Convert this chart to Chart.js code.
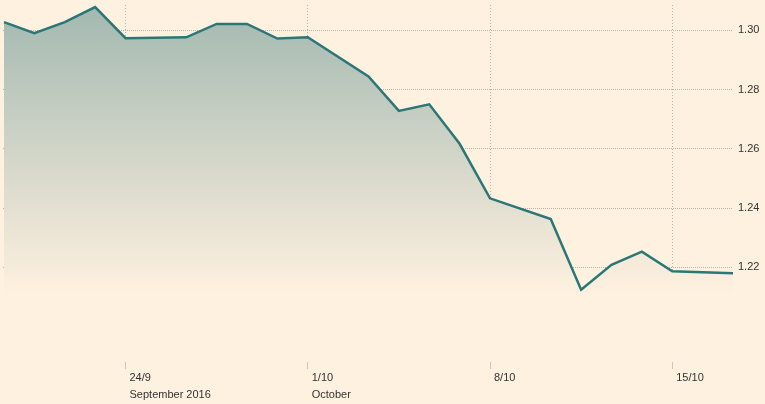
<!DOCTYPE html>
<html>
<head>
<meta charset="utf-8">
<script src="https://cdn.jsdelivr.net/npm/chart.js@4"></script>
<style>
  html, body { margin: 0; padding: 0; background: #fff1e0; }
  #wrap { width: 765px; height: 404px; position: relative; }
</style>
</head>
<body>
<div id="wrap"><canvas id="fxChart"></canvas></div>
<script>
// slot index of each trading point (gaps = no quote that slot)
const slots = [0, 1, 2, 3, 4, 6, 7, 8, 9, 10, 12, 13, 14, 15, 16, 18, 19, 20, 21, 22, 24];
const rates = [1.3027, 1.2990, 1.3027, 1.3078, 1.2973, 1.2976, 1.3021, 1.3021, 1.2972, 1.2976,
               1.2844, 1.2728, 1.2750, 1.2617, 1.2433, 1.2363, 1.2125, 1.2209, 1.2253, 1.2187, 1.2180];

const tickSlots = [4, 10, 16, 22];
const tickLabels = [['24/9', 'September 2016'], ['1/10', 'October'], ['8/10', ''], ['15/10', '']];
const yTicks = [1.22, 1.24, 1.26, 1.28, 1.30];

const points = slots.map((s, i) => ({ x: s, y: rates[i] }));

const gridColor = '#bdb4a8';
const textColor = '#333333';

(function () {
    new Chart(document.getElementById('fxChart'), {
        type: 'line',
        data: {
            datasets: [{
                data: points,
                borderColor: '#2a7776',
                borderWidth: 2.5,
                pointRadius: 0,
                tension: 0,
                fill: 'start',
                backgroundColor: (ctx) => {
                    const g = ctx.chart.ctx.createLinearGradient(0, 5, 0, 295);
                    g.addColorStop(0, '#a2b8b0');
                    g.addColorStop(1, '#fff1e0');
                    return g;
                }
            }]
        },
        options: {
            animation: false,
            responsive: true,
            maintainAspectRatio: false,
            layout: { padding: { left: 3, top: 5, right: 0, bottom: 0 } },
            plugins: {
                legend: { display: false },
                tooltip: { enabled: false }
            },
            scales: {
                x: {
                    type: 'linear',
                    min: -0.033,
                    max: 24,
                    afterBuildTicks: (axis) => { axis.ticks = tickSlots.map(v => ({ value: v })); },
                    afterFit: (axis) => {
                        axis.height = 42;
                        axis.paddingLeft = 0;
                        axis.paddingRight = 0;
                    },
                    border: { display: false, dash: [1, 2] },
                    grid: {
                        color: gridColor,
                        tickLength: 7,
                        tickBorderDash: [],
                        tickColor: '#cfc6ba'
                    },
                    ticks: {
                        autoSkip: false,
                        maxRotation: 0,
                        align: 'start',
                        labelOffset: 4,
                        padding: 1,
                        color: textColor,
                        font: { family: 'Arial, "Liberation Sans", sans-serif', size: 11, lineHeight: 1.5 },
                        callback: (v) => {
                            const i = tickSlots.indexOf(v);
                            return i >= 0 ? tickLabels[i] : '';
                        }
                    }
                },
                y: {
                    position: 'right',
                    min: 1.1881,
                    max: 1.3085,
                    afterBuildTicks: (axis) => { axis.ticks = yTicks.map(v => ({ value: v })); },
                    afterFit: (axis) => {
                        axis.width = 32;
                        axis.paddingTop = 0;
                        axis.paddingBottom = 0;
                    },
                    border: { display: false, dash: [1, 1] },
                    grid: {
                        color: gridColor,
                        drawTicks: false
                    },
                    ticks: {
                        padding: 5,
                        color: textColor,
                        font: { family: 'Arial, "Liberation Sans", sans-serif', size: 11 },
                        callback: (v) => v.toFixed(2)
                    }
                }
            }
        }
    });
})();
</script>
</body>
</html>
